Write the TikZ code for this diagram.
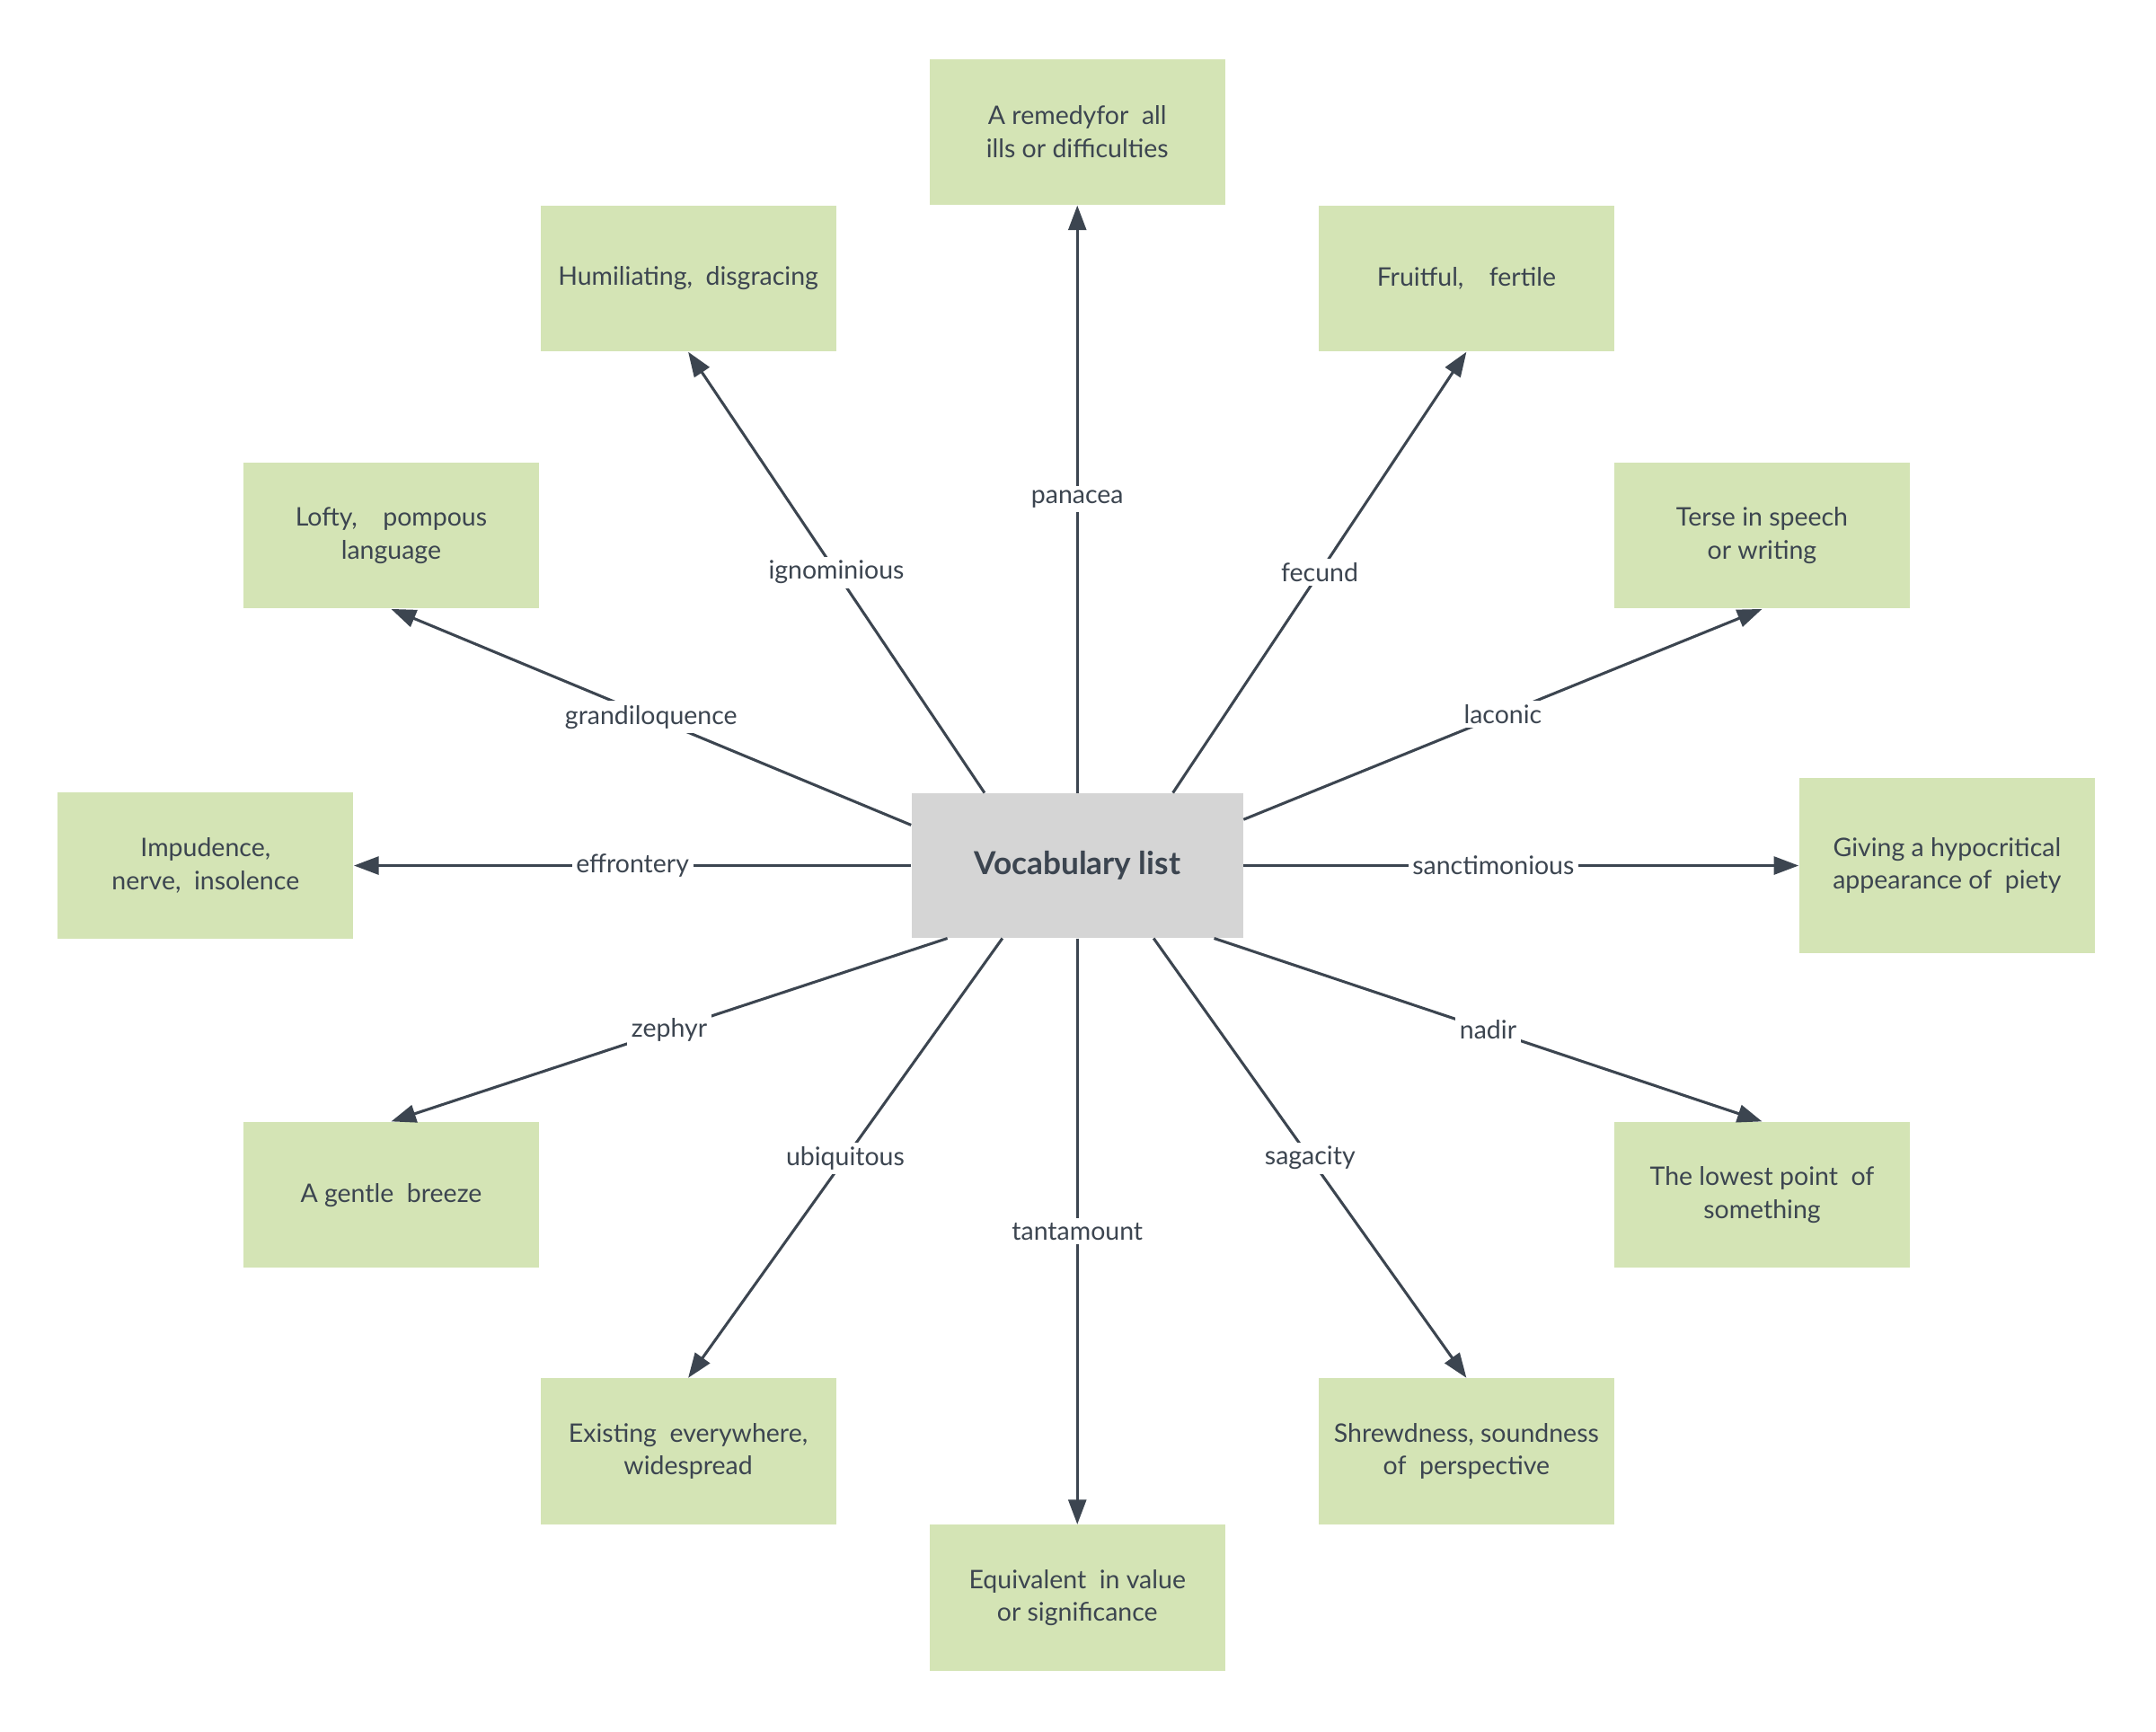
\documentclass[tikz,border=0pt]{standalone}
\usepackage{fontspec}
\setmainfont{Lato}
\usepackage{tikz}
\usetikzlibrary{arrows.meta,positioning}

\definecolor{meangreen}{HTML}{D4E4B5}
\definecolor{hubgray}{HTML}{D5D5D5}
\definecolor{inkgray}{HTML}{3C4550}

\begin{document}
\begin{tikzpicture}[x=0.5pt, y=-0.5pt]
			\tikzstyle{Meaning} = [rectangle, fill=meangreen, text=inkgray, minimum width=107.5pt, minimum height=53pt, inner sep=0pt, align=center, font=\fontsize{9.3}{12}\selectfont]
			\tikzstyle{Hub}     = [rectangle, fill=hubgray, text=inkgray, minimum width=120.5pt, minimum height=52.5pt, font=\fontsize{11.5}{14}\selectfont\bfseries]
			\tikzstyle{Link}    = [draw=inkgray, line width=1pt, -{Triangle[length=9pt, width=6.5pt]}]
			\tikzstyle{Word}    = [fill=white, text=inkgray, inner sep=1.5pt, font=\fontsize{9.3}{12}\selectfont]

			\useasboundingbox (0, 0) rectangle (1568, 1259);

			\node (c) at (783.5, 629.5) [Hub] {Vocabulary list};

			\node (m1) at (783.5, 96) [Meaning] {A remedyfor\ \ all\\ills or difficulties};
			\node (m2) at (500.5, 202.5) [Meaning] {Humiliating,\ \ disgracing};
			\node (m3) at (1066.5, 202.5) [Meaning] {Fruitful,\quad fertile};
			\node (m4) at (284.5, 389.5) [Meaning] {Lofty,\quad pompous\\language};
			\node (m5) at (1281.5, 389.5) [Meaning] {Terse in speech\\or writing};
			\node (m6) at (149.5, 629.5) [Meaning] {Impudence,\\nerve,\ \ insolence};
			\node (m7) at (1416, 629.5) [Meaning, minimum height=63.5pt] {Giving a hypocritical\\appearance of\ \ piety};
			\node (m8) at (284.5, 869) [Meaning] {A gentle\ \ breeze};
			\node (m9) at (1281.5, 869) [Meaning] {The lowest point\ \ of\\something};
			\node (m10) at (500.5, 1055.5) [Meaning] {Existing\ \ everywhere,\\widespread};
			\node (m11) at (1066.5, 1055.5) [Meaning] {Shrewdness, soundness\\of\ \ perspective};
			\node (m12) at (783.5, 1162) [Meaning] {Equivalent\ \ in value\\or significance};

			% upper half
			\draw [Link] (c.north) to node [Word] {panacea} (m1.south);
			\draw [Link] ([xshift=-33.75pt]c.north) to node [Word] {ignominious} (m2.south);
			\draw [Link] ([xshift=34.75pt]c.north) to node [Word] {fecund} (m3.south);
			\draw [Link] ([yshift=14.75pt]c.west) to node [Word] {grandiloquence} (m4.south);
			\draw [Link] ([yshift=16.75pt]c.east) to node [Word] {laconic} (m5.south);
			\draw [Link] (c.west) to node [Word] {effrontery} (m6.east);
			\draw [Link] (c.east) to node [Word, pos=0.45] {sanctimonious} (m7.west);

			% lower half
			\draw [Link] ([xshift=-47.25pt]c.south) to node [Word] {zephyr} (m8.north);
			\draw [Link] ([xshift=49.75pt]c.south) to node [Word] {nadir} (m9.north);
			\draw [Link] ([xshift=-27.25pt]c.south) to node [Word] {ubiquitous} (m10.north);
			\draw [Link] ([xshift=27.75pt]c.south) to node [Word] {sagacity} (m11.north);
			\draw [Link] (c.south) to node [Word] {tantamount} (m12.north);
		\end{tikzpicture}
\end{document}
